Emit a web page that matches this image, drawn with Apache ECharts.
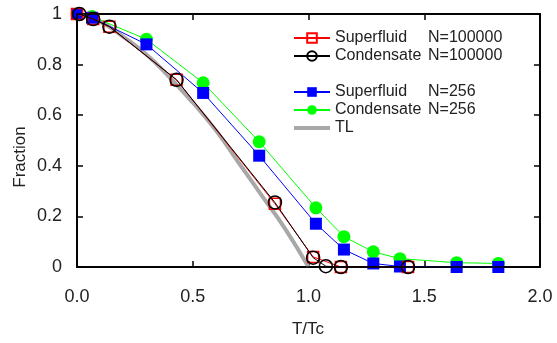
<!DOCTYPE html>
<html><head><meta charset="utf-8">
<script src="https://cdn.jsdelivr.net/npm/echarts@6/dist/echarts.min.js"></script>
<style>html,body{margin:0;padding:0;background:#fff}#c{width:557px;height:343px}</style>
</head><body><div id="c"></div>
<script>
// ---- data ----
const sfBigX = [0.00, 0.07, 0.14, 0.43, 0.855, 1.02, 1.14, 1.43];
const sfBigY = [1.00, 0.98, 0.95, 0.74, 0.25, 0.04, 0.00, 0.00];
const cdBigX = [0.01, 0.07, 0.14, 0.43, 0.855, 1.02, 1.075, 1.14, 1.43];
const cdBigY = [1.00, 0.98, 0.95, 0.74, 0.255, 0.037, 0.003, 0.00, 0.00];
const sfSmallX = [0.00, 0.065, 0.30, 0.545, 0.787, 1.032, 1.153, 1.28, 1.395, 1.64, 1.82];
const sfSmallY = [1.00, 0.985, 0.88, 0.688, 0.44, 0.171, 0.069, 0.014, 0.002, 0.00, 0.00];
const cdSmallX = [0.00, 0.065, 0.30, 0.545, 0.787, 1.032, 1.153, 1.28, 1.395, 1.64, 1.82];
const cdSmallY = [1.00, 0.99, 0.90, 0.728, 0.495, 0.234, 0.12, 0.06, 0.033, 0.017, 0.014];
const tlX = [0.0, 0.1, 0.2, 0.3, 0.4, 0.5, 0.6, 0.7, 0.8, 0.9, 1.0];
const tlY = [1.0, 0.97, 0.91, 0.84, 0.75, 0.65, 0.54, 0.41, 0.28, 0.15, 0.0];
const xTicks = [0.0, 0.5, 1.0, 1.5, 2.0];
const yTicks = [0, 0.2, 0.4, 0.6, 0.8, 1];
const names = ['Superfluid N=100000', 'Condensate N=100000', 'Superfluid N=256', 'Condensate N=256', 'TL'];
const xTitle = 'T/Tc';
const yTitle = 'Fraction';

const pairs = (xs, ys) => xs.map((x, i) => [x, ys[i]]);
const FONT = 'Liberation Sans';
const W = 557, H = 343, GL = 77, GR = 17, GT = 14, GB = 76;
const fmtX = v => { const n = Number(v); return isFinite(n) ? n.toFixed(1) : String(v); };
const fmtY = v => { const n = Number(v); if (!isFinite(n)) return String(v);
  return (Math.abs(n) < 1e-9 || Math.abs(n - 1) < 1e-9) ? String(Math.round(n)) : n.toFixed(1); };
const legendFmt = nm => {
  const n = String(nm);
  const i = n.indexOf(' N=');
  if (i < 0) return '{a|' + n + '}';
  return '{a|' + n.slice(0, i) + '}{b|' + n.slice(i + 1) + '}';
};
const mkRich = () => ({
  a: { width: 93, fontSize: 16, fontFamily: FONT, color: '#222' },
  b: { fontSize: 16, fontFamily: FONT, color: '#222' }
});
const mkLegend = (top, data) => ({ top: top, data: data, left: 293, orient: 'vertical', padding: 0,
  itemWidth: 36, itemHeight: 12, itemGap: 2, formatter: legendFmt, textStyle: { rich: mkRich() } });
const axLine = () => ({ show: true, onZero: false, lineStyle: { color: '#000', width: 1.5 } });
const axTick = () => ({ show: true, inside: true, length: 6, lineStyle: { color: '#000', width: 1.5 } });

const chart = echarts.init(document.getElementById('c'));
const option = {
  animation: false,
  backgroundColor: '#fff',
  grid: { left: GL, right: GR, top: GT, bottom: GB, show: true, borderColor: '#000', borderWidth: 1.5 },
  legend: [
    mkLegend(30, [names[0], names[1]]),
    mkLegend(84, [names[2], names[3], { name: names[4], icon: 'path://M0,0 L36,0 L36,4 L0,4 Z' }])
  ],
  graphic: [
    { type: 'rect', silent: true, z: 10,
      shape: { x: GL, y: GT, width: W - GL - GR, height: H - GT - GB },
      style: { fill: null, stroke: '#000', lineWidth: 1.5 } },
    { type: 'text', x: 308, y: 329, silent: true,
      style: { text: xTitle, fontSize: 17, fontFamily: FONT, fill: '#222', align: 'center', verticalAlign: 'middle' } },
    { type: 'text', x: 20, y: 157, rotation: Math.PI / 2, silent: true,
      style: { text: yTitle, fontSize: 17, fontFamily: FONT, fill: '#222', align: 'center', verticalAlign: 'middle' } }
  ],
  xAxis: [
    { type: 'value', min: 0, max: 2, interval: 0.5, position: 'bottom',
      axisLine: axLine(), axisTick: axTick(),
      axisLabel: { margin: 21, fontSize: 18, fontFamily: FONT, color: '#222', formatter: fmtX },
      splitLine: { show: false } },
    { type: 'value', min: 0, max: 2, interval: 0.5, position: 'top',
      axisLine: axLine(), axisTick: axTick(), axisLabel: { show: false }, splitLine: { show: false } }
  ],
  yAxis: [
    { type: 'value', min: 0, max: 1, interval: 0.2, position: 'left',
      axisLine: axLine(), axisTick: axTick(),
      axisLabel: { margin: 15, fontSize: 18, fontFamily: FONT, color: '#222', formatter: fmtY },
      splitLine: { show: false } },
    { type: 'value', min: 0, max: 1, interval: 0.2, position: 'right',
      axisLine: axLine(), axisTick: axTick(), axisLabel: { show: false }, splitLine: { show: false } }
  ],
  series: [
    { name: names[4], type: 'line', data: pairs(tlX, tlY), symbol: 'none', smooth: true,
      lineStyle: { color: '#a8a8a8', width: 4 }, itemStyle: { color: '#a8a8a8' }, z: 3 },
    { name: names[3], type: 'line', data: pairs(cdSmallX, cdSmallY), symbol: 'circle', symbolSize: 13,
      lineStyle: { color: '#00ff00', width: 1 }, itemStyle: { color: '#00ff00' }, z: 4 },
    { name: names[2], type: 'line', data: pairs(sfSmallX, sfSmallY), symbol: 'rect', symbolSize: 12,
      lineStyle: { color: '#0000ff', width: 1 }, itemStyle: { color: '#0000ff' }, z: 5 },
    { name: names[0], type: 'line', data: pairs(sfBigX, sfBigY), symbol: 'rect', symbolSize: 11,
      lineStyle: { color: '#ff0000', width: 1 },
      itemStyle: { color: 'rgba(255,255,255,0)', borderColor: '#ff0000', borderWidth: 1.5 }, z: 6 },
    { name: names[1], type: 'line', data: pairs(cdBigX, cdBigY), symbol: 'circle', symbolSize: 13,
      lineStyle: { color: '#000', width: 1 },
      itemStyle: { color: 'rgba(255,255,255,0)', borderColor: '#000', borderWidth: 1.5 }, z: 7 }
  ]
};
try { chart.setOption(option); } catch (e) { console.error(e); }
</script></body></html>
